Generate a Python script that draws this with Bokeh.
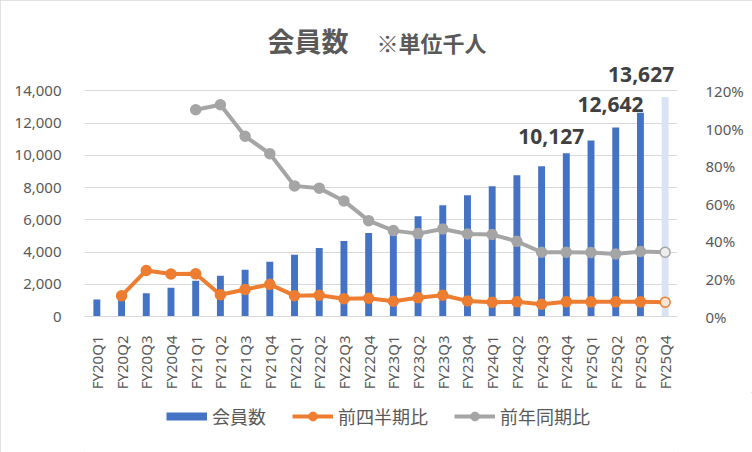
import math
from bokeh.plotting import figure
from bokeh.layouts import column
from bokeh.models import (ColumnDataSource, Range1d, LinearAxis, FactorRange,
                          NumeralTickFormatter, PrintfTickFormatter, FixedTicker,
                          Legend, LegendItem, Label, LabelSet)
from bokeh.core.properties import value
from bokeh.embed import file_html
from bokeh.resources import INLINE

nan = float("nan")

# ---- data ----
quarters = ["FY20Q1", "FY20Q2", "FY20Q3", "FY20Q4",
            "FY21Q1", "FY21Q2", "FY21Q3", "FY21Q4",
            "FY22Q1", "FY22Q2", "FY22Q3", "FY22Q4",
            "FY23Q1", "FY23Q2", "FY23Q3", "FY23Q4",
            "FY24Q1", "FY24Q2", "FY24Q3", "FY24Q4",
            "FY25Q1", "FY25Q2", "FY25Q3", "FY25Q4"]
members = [1050, 1180, 1440, 1780, 2220, 2530, 2900, 3400,
           3830, 4260, 4690, 5180, 5600, 6230, 6910, 7530,
           8090, 8770, 9320, 10127, 10930, 11730, 12642, 13627]
qoq_pct = [nan, 11.0, 24.5, 22.6, 22.7, 11.6, 14.4, 17.1,
           11.1, 11.3, 9.5, 9.7, 8.1, 10.0, 11.3, 8.3,
           7.6, 7.8, 6.5, 7.9, 7.8, 7.8, 7.8, 7.6]
yoy_pct = [nan, nan, nan, nan, 110.0, 112.7, 95.9, 86.6,
           69.5, 68.3, 61.5, 51.0, 45.7, 44.1, 46.6, 43.9,
           43.6, 40.0, 34.2, 34.2, 34.1, 33.3, 34.6, 34.2]
forecast_quarter = "FY25Q4"
labelled_quarters = ["FY24Q4", "FY25Q3", "FY25Q4"]
left_ticks = [0, 2000, 4000, 6000, 8000, 10000, 12000, 14000]
right_ticks = [0, 20, 40, 60, 80, 100, 120]
title_main = "会員数"
title_sub = "※単位千人"
series_names = ["会員数", "前四半期比", "前年同期比"]

# ---- layout / styles ----
W, H = 752, 452
LEGEND_H = 60
MAIN_H = H - LEGEND_H
FRAME_TOP, FRAME_BOTTOM = 10, 318        # page px
GRID_TOP = 91                            # page px of the top tick
FRAME_H = FRAME_BOTTOM - FRAME_TOP
GRID_H = FRAME_BOTTOM - GRID_TOP
BLUE = "#4472C4"
BLUE_LIGHT = "#DAE3F3"
ORANGE = "#ED7D31"
ORANGE_LIGHT = "#FBE5D6"
GRAY = "#A5A5A5"
GRAY_LIGHT = "#EDEDED"
TEXT = "#595959"
GRID = "#D9D9D9"
LATIN = "Noto Sans"
CJK = "Noto Sans CJK JP"

left_max = left_ticks[-1]
right_max = right_ticks[-1]

is_fc = [q == forecast_quarter for q in quarters]
src = ColumnDataSource(dict(
    q=quarters,
    members=members,
    qoq=qoq_pct,
    yoy=yoy_pct,
    bar_color=[BLUE_LIGHT if f else BLUE for f in is_fc],
    qoq_fill=[ORANGE_LIGHT if f else ORANGE for f in is_fc],
    yoy_fill=[GRAY_LIGHT if f else GRAY for f in is_fc],
))

p = figure(x_range=FactorRange(*quarters),
           y_range=Range1d(0, left_max * FRAME_H / GRID_H),
           width=W, height=MAIN_H,
           output_backend="svg", toolbar_location=None,
           min_border_left=84, min_border_right=75,
           min_border_top=FRAME_TOP, min_border_bottom=MAIN_H - FRAME_BOTTOM)
p.outline_line_color = None
p.background_fill_color = "white"
p.border_fill_color = "white"

p.extra_y_ranges = {"pct": Range1d(0, right_max * FRAME_H / GRID_H)}

# left axis
ya = p.yaxis[0]
ya.ticker = FixedTicker(ticks=left_ticks)
ya.formatter = NumeralTickFormatter(format="0,0")
ya.axis_line_color = None
ya.major_tick_line_color = None
ya.minor_tick_line_color = None
ya.major_label_text_color = TEXT
ya.major_label_text_font = LATIN
ya.major_label_text_font_size = "15px"
ya.major_label_standoff = 17

# right axis
ra = LinearAxis(y_range_name="pct",
                ticker=FixedTicker(ticks=right_ticks),
                formatter=PrintfTickFormatter(format="%d%%"))
ra.axis_line_color = None
ra.major_tick_line_color = None
ra.minor_tick_line_color = None
ra.major_label_text_color = TEXT
ra.major_label_text_font = LATIN
ra.major_label_text_font_size = "15px"
ra.major_label_standoff = 22
p.add_layout(ra, "right")

# x axis
xa = p.xaxis[0]
xa.axis_line_color = GRID
xa.axis_line_width = 1
xa.major_tick_line_color = None
xa.minor_tick_line_color = None
xa.major_label_orientation = math.pi / 2
xa.major_label_text_color = TEXT
xa.major_label_text_font = LATIN
xa.major_label_text_font_size = "15px"
xa.major_label_standoff = 13

p.xgrid.visible = False
p.ygrid.ticker = FixedTicker(ticks=left_ticks)
p.ygrid.grid_line_color = GRID
p.ygrid.grid_line_width = 1

# bars
p.vbar(x="q", top="members", width=0.28, fill_color="bar_color",
       line_color=None, source=src)

# lines
p.line(x="q", y="yoy", y_range_name="pct", line_color=GRAY,
       line_width=4, source=src)
p.scatter(x="q", y="yoy", y_range_name="pct", size=10,
          fill_color="yoy_fill", line_color=GRAY, line_width=1.5, source=src)
p.line(x="q", y="qoq", y_range_name="pct", line_color=ORANGE,
       line_width=4, source=src)
p.scatter(x="q", y="qoq", y_range_name="pct", size=10,
          fill_color="qoq_fill", line_color=ORANGE, line_width=1.5, source=src)

# data labels
lab_vals = [members[quarters.index(q)] for q in labelled_quarters]
lab_src = ColumnDataSource(dict(
    q=labelled_quarters,
    v=lab_vals,
    t=[f"{v:,}" for v in lab_vals],
    dx=[-15, -30, -24],
    dy=[17, 8, 22],
))
p.add_layout(LabelSet(x="q", y="v", text="t", x_offset="dx", y_offset="dy",
                      source=lab_src, text_align="center", text_baseline="middle",
                      text_font=value(LATIN), text_font_size=value("21px"),
                      text_font_style="bold", text_color="#404040"))

# title (two sizes)
p.add_layout(Label(x=264, y=left_max, x_units="screen", y_units="data",
                   y_offset=50, text=title_main, text_align="right",
                   text_baseline="middle", text_font=CJK, text_font_size="27px",
                   text_font_style="bold", text_color=TEXT))
p.add_layout(Label(x=292, y=left_max, x_units="screen", y_units="data",
                   y_offset=49, text=title_sub, text_align="left",
                   text_baseline="middle", text_font=CJK, text_font_size="22px",
                   text_font_style="bold", text_color=TEXT))

# ---- legend strip (legend-only proxy glyphs with no drawable points) ----
lg = figure(width=W, height=LEGEND_H, x_range=Range1d(0, 1), y_range=Range1d(0, 1),
            output_backend="svg", toolbar_location=None,
            x_axis_location=None, y_axis_location=None,
            min_border=0)
lg.outline_line_color = None
lg.grid.visible = False
lg.background_fill_color = "white"
lg.border_fill_color = "white"

none = dict(x=[nan], y=[nan])
sw_bar = lg.line(x="x", y="y", source=ColumnDataSource(none), line_color=BLUE, line_width=8)
sw_qoq_l = lg.line(x="x", y="y", source=ColumnDataSource(none), line_color=ORANGE, line_width=4)
sw_qoq_m = lg.scatter(x="x", y="y", source=ColumnDataSource(none), fill_color=ORANGE,
                      line_color=ORANGE)
sw_yoy_l = lg.line(x="x", y="y", source=ColumnDataSource(none), line_color=GRAY, line_width=4)
sw_yoy_m = lg.scatter(x="x", y="y", source=ColumnDataSource(none), fill_color=GRAY,
                      line_color=GRAY)

legend = Legend(items=[
    LegendItem(label=series_names[0], renderers=[sw_bar]),
    LegendItem(label=series_names[1], renderers=[sw_qoq_l, sw_qoq_m]),
    LegendItem(label=series_names[2], renderers=[sw_yoy_l, sw_yoy_m]),
], orientation="horizontal", location=(82, 23))
legend.glyph_width = 41
legend.glyph_height = 22
legend.label_text_font = CJK
legend.label_text_font_size = "18px"
legend.label_text_color = TEXT
legend.label_standoff = 5
legend.spacing = 26
legend.padding = 0
legend.margin = 0
legend.border_line_color = None
legend.background_fill_alpha = 0
lg.add_layout(legend)

layout = column(p, lg, spacing=0)
layout.styles = {"outline": "1px solid #D9D9D9", "outline-offset": "-1px"}

open("out.html", "w").write(file_html(layout, INLINE))
